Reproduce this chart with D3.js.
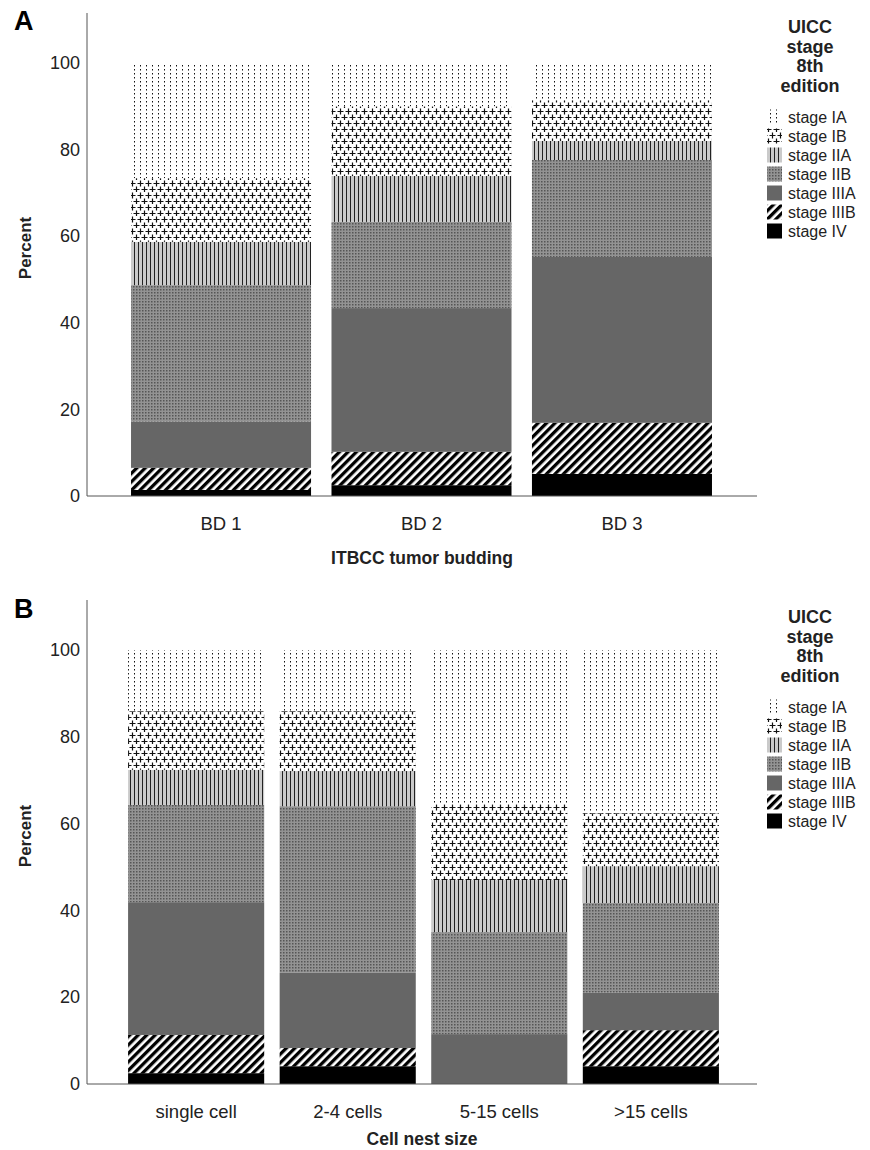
<!DOCTYPE html>
<html>
<head>
<meta charset="utf-8">
<script src="https://cdn.jsdelivr.net/npm/d3@7"></script>
<style>
  body { margin: 0; background: #fff; }
  text { font-family: "Liberation Sans", Arial, sans-serif; }
</style>
</head>
<body>
<div id="chart"></div>
<script>
// stage order, top of bar first (as in the legend)
const stages = ["stage IA", "stage IB", "stage IIA", "stage IIB", "stage IIIA", "stage IIIB", "stage IV"];
const patternIds = ["pIA", "pIB", "pIIA", "pIIB", "pIIIA", "pIIIB", "pIV"];

// Panel A - ITBCC tumor budding (percent per stage, IA..IV)
const buddingCats = ["BD 1", "BD 2", "BD 3"];
const bd1 = [26.6, 14.7, 10.0, 31.5, 10.7, 5.1, 1.4];
const bd2 = [10.0, 16.1, 10.6, 19.9, 33.2, 7.7, 2.5];
const bd3 = [8.6, 9.4, 4.4, 22.4, 38.3, 11.8, 5.1];

// Panel B - cell nest size
const nestCats = ["single cell", "2-4 cells", "5-15 cells", ">15 cells"];
const nestSingle = [14.1, 13.5, 8.1, 22.4, 30.6, 8.8, 2.5];
const nest2to4 = [14.1, 13.8, 8.1, 38.4, 17.3, 4.2, 4.1];
const nest5to15 = [35.5, 17.5, 12.0, 23.5, 11.5, 0, 0];
const nestOver15 = [37.6, 12.2, 8.5, 20.7, 8.6, 8.3, 4.1];

const yTicks = [0, 20, 40, 60, 80, 100];

const svg = d3.select("#chart").append("svg")
    .attr("width", 870)
    .attr("height", 1150);

// ---- patterns ----
const defs = svg.append("defs");

// IA: sparse dots
var p = defs.append("pattern").attr("id", "pIA").attr("patternUnits", "userSpaceOnUse")
    .attr("width", 6).attr("height", 4);
p.append("rect").attr("width", 6).attr("height", 4).attr("fill", "#fff");
p.append("rect").attr("x", 2).attr("y", 1).attr("width", 1).attr("height", 1.5).attr("fill", "#111");

// IB: staggered crosses
p = defs.append("pattern").attr("id", "pIB").attr("patternUnits", "userSpaceOnUse")
    .attr("width", 8).attr("height", 12);
p.append("rect").attr("width", 8).attr("height", 12).attr("fill", "#fff");
[[4.5, 3.5], [0.5, 9.5], [8.5, 9.5]].forEach(function (c) {
    p.append("path")
        .attr("d", "M" + (c[0] - 3) + "," + c[1] + "h6M" + c[0] + "," + (c[1] - 3) + "v6")
        .attr("stroke", "#111").attr("stroke-width", 1.2);
});

// IIA: vertical lines on light grey
p = defs.append("pattern").attr("id", "pIIA").attr("patternUnits", "userSpaceOnUse")
    .attr("width", 4).attr("height", 4);
p.append("rect").attr("width", 4).attr("height", 4).attr("fill", "#cacaca");
p.append("rect").attr("x", 2).attr("width", 1).attr("height", 4).attr("fill", "#222");

// IIB: fine dark dots on mid grey
p = defs.append("pattern").attr("id", "pIIB").attr("patternUnits", "userSpaceOnUse")
    .attr("width", 3).attr("height", 3);
p.append("rect").attr("width", 3).attr("height", 3).attr("fill", "#939393");
p.append("rect").attr("x", 1).attr("y", 1).attr("width", 1.5).attr("height", 1.5).attr("fill", "#555");

// IIIA: solid grey
p = defs.append("pattern").attr("id", "pIIIA").attr("patternUnits", "userSpaceOnUse")
    .attr("width", 4).attr("height", 4);
p.append("rect").attr("width", 4).attr("height", 4).attr("fill", "#666");

// IIIB: black/white diagonal stripes
p = defs.append("pattern").attr("id", "pIIIB").attr("patternUnits", "userSpaceOnUse")
    .attr("width", 6).attr("height", 6).attr("patternTransform", "rotate(45)");
p.append("rect").attr("width", 6).attr("height", 6).attr("fill", "#fff");
p.append("rect").attr("width", 3.3).attr("height", 6).attr("fill", "#000");

// IV: solid black
p = defs.append("pattern").attr("id", "pIV").attr("patternUnits", "userSpaceOnUse")
    .attr("width", 4).attr("height", 4);
p.append("rect").attr("width", 4).attr("height", 4).attr("fill", "#000");


function drawPanel(cfg) {
    var g = svg.append("g");

    // rows for d3.stack
    var rows = cfg.cats.map(function (c, i) {
        var row = { cat: c };
        stages.forEach(function (s, j) { row[s] = cfg.values[i][j]; });
        return row;
    });
    var stacked = d3.stack().keys(stages.slice().reverse())(rows);

    var x = d3.scaleBand()
        .domain(cfg.cats)
        .range(cfg.xRange)
        .paddingInner(0.102)
        .paddingOuter(0.05);
    var y = d3.scaleLinear()
        .domain([0, 100])
        .range([cfg.y0, cfg.y100]);

    // bars
    g.selectAll("g.layer")
        .data(stacked)
        .enter().append("g")
        .attr("class", "layer")
        .attr("fill", function (d) { return "url(#" + patternIds[stages.indexOf(d.key)] + ")"; })
        .selectAll("rect")
        .data(function (d) { return d; })
        .enter().append("rect")
        .attr("x", function (d) { return x(d.data.cat); })
        .attr("width", x.bandwidth())
        .attr("y", function (d) { return y(d[1]); })
        .attr("height", function (d) { return y(d[0]) - y(d[1]); });

    // axes lines
    g.append("line")
        .attr("x1", cfg.axisLeft).attr("x2", cfg.axisLeft)
        .attr("y1", cfg.axisTop).attr("y2", cfg.y0)
        .attr("stroke", "#555").attr("stroke-width", 1);
    g.append("line")
        .attr("x1", cfg.axisLeft).attr("x2", cfg.axisRight)
        .attr("y1", cfg.y0).attr("y2", cfg.y0)
        .attr("stroke", "#555").attr("stroke-width", 1);

    // y tick labels
    var yAxis = g.append("g")
        .attr("transform", "translate(" + cfg.axisLeft + ",0)")
        .call(d3.axisLeft(y).tickValues(yTicks).tickSize(0).tickPadding(7));
    yAxis.select(".domain").remove();
    yAxis.selectAll("text")
        .style("font-family", "'Liberation Sans', Arial, sans-serif")
        .style("font-size", "18px").attr("fill", "#222");

    // x tick labels
    var xAxis = g.append("g")
        .attr("transform", "translate(0," + cfg.y0 + ")")
        .call(d3.axisBottom(x).tickSize(0).tickPadding(21));
    xAxis.select(".domain").remove();
    xAxis.selectAll("text")
        .style("font-family", "'Liberation Sans', Arial, sans-serif")
        .style("font-size", "18.5px").attr("fill", "#222");

    // axis titles
    g.append("text")
        .attr("text-anchor", "middle")
        .attr("transform", "translate(31," + cfg.yTitleY + ") rotate(-90)")
        .style("font-size", "17px").style("font-weight", "bold")
        .attr("fill", "#222")
        .text("Percent");
    g.append("text")
        .attr("text-anchor", "middle")
        .attr("x", (cfg.axisLeft + cfg.axisRight) / 2)
        .attr("y", cfg.xTitleY)
        .style("font-size", "17.5px").style("font-weight", "bold")
        .attr("fill", "#222")
        .text(cfg.xTitle);

    // panel letter
    g.append("text")
        .attr("x", 14).attr("y", cfg.letterY)
        .style("font-size", "27px").style("font-weight", "bold")
        .text(cfg.letter);

    // legend
    var lg = g.append("g").attr("transform", "translate(0," + cfg.legendTop + ")");
    ["UICC", "stage", "8th", "edition"].forEach(function (t, i) {
        lg.append("text")
            .attr("x", 810).attr("y", 33 + i * 19.5)
            .attr("text-anchor", "middle")
            .style("font-size", "18px").style("font-weight", "bold")
            .attr("fill", "#222")
            .text(t);
    });
    stages.forEach(function (s, i) {
        var cy = 117 + i * 19;
        lg.append("rect")
            .attr("x", 767).attr("y", cy - 7.5)
            .attr("width", 15).attr("height", 15)
            .attr("fill", "url(#" + patternIds[i] + ")");
        lg.append("text")
            .attr("x", 788).attr("y", cy + 5.5)
            .style("font-size", "16px")
            .attr("fill", "#222")
            .text(s);
    });
}

drawPanel({
    letter: "A", letterY: 30,
    cats: buddingCats,
    values: [bd1, bd2, bd3],
    xRange: [121, 722],
    y0: 496, y100: 63, axisTop: 13,
    axisLeft: 87, axisRight: 757,
    yTitleY: 248, xTitleY: 564,
    xTitle: "ITBCC tumor budding",
    legendTop: 0
});

drawPanel({
    letter: "B", letterY: 618,
    cats: nestCats,
    values: [nestSingle, nest2to4, nest5to15, nestOver15],
    xRange: [120.5, 726.5],
    y0: 1084, y100: 650, axisTop: 600,
    axisLeft: 87, axisRight: 757,
    yTitleY: 836, xTitleY: 1145,
    xTitle: "Cell nest size",
    legendTop: 590
});
</script>
</body>
</html>
